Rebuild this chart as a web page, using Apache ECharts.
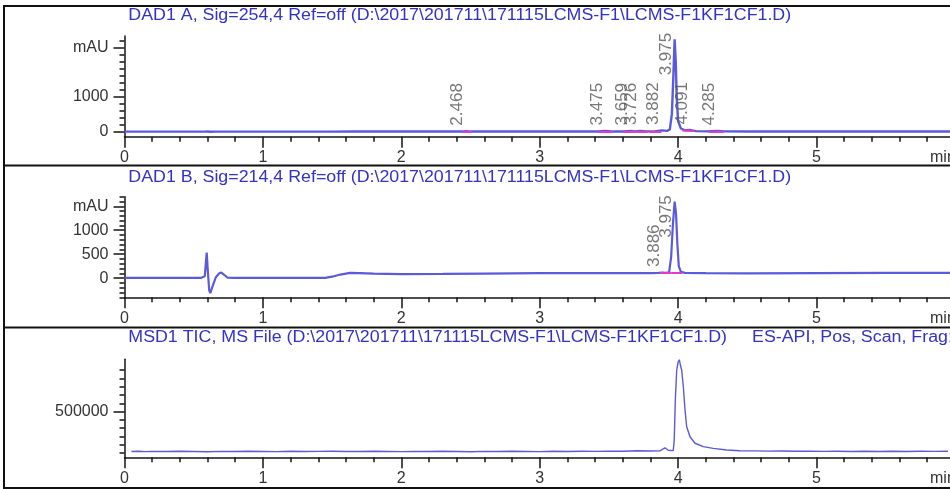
<!DOCTYPE html>
<html>
<head>
<meta charset="utf-8">
<script src="https://cdn.jsdelivr.net/npm/echarts@6/dist/echarts.min.js"></script>
<style>
html, body { margin: 0; padding: 0; background: #fff; }
#chart { width: 950px; height: 489px; }
</style>
</head>
<body>
<div id="chart"></div>
<script>
// ---------- signal data: [retention time (min), response] ----------

// DAD1 A, 254 nm (mAU)
const dadA = [
  [0, 1], [0.3, 1], [0.58, 1], [0.6, 4], [0.62, -2], [0.66, 1], [1.0, 1], [1.5, 1],
  [1.65, 4], [1.8, 3], [2.0, 2], [2.42, 2], [2.45, 3], [2.468, 12], [2.49, 3], [2.6, 2],
  [3.0, 3], [3.42, 3], [3.475, 20], [3.52, 4], [3.6, 4], [3.659, 18], [3.69, 7],
  [3.726, 22], [3.77, 7], [3.83, 8], [3.882, 35], [3.92, 20], [3.94, 60], [3.955, 500],
  [3.965, 1500], [3.975, 2640], [3.983, 2000], [3.99, 1000], [4.0, 300], [4.02, 90],
  [4.05, 40], [4.091, 45], [4.13, 15], [4.2, 8], [4.285, 20], [4.33, 6], [4.5, 4],
  [5.0, 3], [5.5, 3], [6.0, 3]
];
const peaksA = [2.468, 3.475, 3.659, 3.726, 3.882, 3.975, 4.091, 4.285];
// integration baselines [t start, value, t end, value]
const baseA = [
  [2.44, 3, 2.51, 3], [3.42, 4, 3.53, 4], [3.60, 5, 3.70, 6], [3.70, 6, 3.78, 7],
  [3.79, 8, 3.88, 10], [4.03, 30, 4.12, 15], [4.22, 8, 4.33, 6]
];

// DAD1 B, 214 nm (mAU)
const dadB = [
  [0, 5], [0.3, 5], [0.55, 5], [0.58, 40], [0.594, 533], [0.602, 150], [0.612, -250],
  [0.62, -312], [0.635, -180], [0.66, 20], [0.685, 100], [0.70, 117], [0.72, 70],
  [0.745, 8], [0.8, 5], [1.0, 5], [1.2, 5], [1.45, 6], [1.5, 30], [1.56, 75], [1.63, 110],
  [1.7, 106], [1.8, 95], [2.0, 85], [2.3, 88], [2.6, 95], [3.0, 105], [3.5, 106],
  [3.8, 106], [3.86, 108], [3.886, 118], [3.91, 110], [3.935, 120], [3.95, 450],
  [3.962, 1100], [3.975, 1596], [3.985, 1350], [3.995, 700], [4.005, 250], [4.02, 130],
  [4.05, 110], [4.2, 104], [4.5, 98], [5.0, 106], [5.5, 110], [6.0, 110]
];
const peaksB = [3.886, 3.975];
const baseB = [[3.87, 108, 3.95, 112], [3.95, 112, 4.03, 112]];

// MSD1 TIC (counts)
const tic = [
  [0.05, 20000], [0.1, 22000], [0.15, 18000], [0.2, 21000], [0.3, 19000], [0.4, 23000],
  [0.5, 20000], [0.6, 17000], [0.7, 21000], [0.8, 19000], [0.9, 22000], [1.0, 20000],
  [1.1, 18000], [1.2, 22000], [1.3, 19000], [1.4, 21000], [1.5, 23000], [1.6, 20000],
  [1.7, 19000], [1.8, 22000], [1.9, 20000], [2.0, 18000], [2.1, 21000], [2.2, 19000],
  [2.3, 22000], [2.4, 20000], [2.5, 17000], [2.6, 21000], [2.7, 19000], [2.8, 22000],
  [2.9, 20000], [3.0, 18000], [3.1, 22000], [3.2, 20000], [3.3, 23000], [3.4, 21000],
  [3.5, 24000], [3.6, 22000], [3.7, 28000], [3.8, 26000], [3.869, 27000], [3.905, 65000],
  [3.929, 35000], [3.965, 30000], [3.972, 158000], [3.98, 640000], [3.99, 1001000],
  [4.0, 1097000], [4.009, 1125000], [4.018, 1049000], [4.026, 1001000], [4.038, 800000],
  [4.05, 520000], [4.062, 318000], [4.086, 198000], [4.122, 119000], [4.182, 78000],
  [4.254, 58000], [4.351, 38000], [4.447, 29500], [4.55, 27000], [4.65, 24000],
  [4.75, 25000], [4.85, 22000], [4.95, 24000], [5.05, 21000], [5.15, 23000],
  [5.25, 20000], [5.35, 22000], [5.45, 19000], [5.55, 22000], [5.65, 20000],
  [5.75, 23000], [5.85, 21000], [5.95, 22000]
];

// ---------- axes ----------
const timeRange = [0, 6];
const yRangeA = [-145, 2735];
const yRangeB = [-400, 1700];
const yRangeT = [-50000, 1130000];
const yLabelsA = { 0: '0', 1000: '1000', 2400: 'mAU' };
const yLabelsB = { 0: '0', 500: '500', 1000: '1000', 1500: 'mAU' };
const yLabelsT = { 500000: '500000' };
const yMinorStepA = 200, yMinorStepB = 100, yMinorStepT = 100000;
const yMinorSpanA = [0, 2600], yMinorSpanB = [-400, 1700], yMinorSpanT = [0, 1000000];

// ---------- titles ----------
const titleA = 'DAD1 A, Sig=254,4 Ref=off (D:\\2017\\201711\\171115LCMS-F1\\LCMS-F1KF1CF1.D)';
const titleB = 'DAD1 B, Sig=214,4 Ref=off (D:\\2017\\201711\\171115LCMS-F1\\LCMS-F1KF1CF1.D)';
const titleT = 'MSD1 TIC, MS File (D:\\2017\\201711\\171115LCMS-F1\\LCMS-F1KF1CF1.D)';
const titleT2 = 'ES-API, Pos, Scan, Frag: 70';

const FONT = '"Liberation Sans", Arial, sans-serif';
const AXIS = '#141414';
const TRACE = '#5a5adc';
const INTEG = '#e23cc0';
const TITLE = '#3232c8';

// panel frames (pixel layout)
const panels = [
  { top: 36, height: 100.7, titleY: 16 },
  { top: 196.7, height: 100.6, titleY: 178 },
  { top: 359.3, height: 98, titleY: 338 }
];
const LEFT = 124.5, WIDTH = 830.4;

function steps(span, step) {
  const out = [];
  for (let v = span[0]; v <= span[1] + 1e-9; v += step) out.push(+v.toFixed(6));
  return out;
}

const grid = panels.map(p => ({
  left: LEFT, top: p.top, width: WIDTH, height: p.height,
  outerBoundsMode: 'none', containLabel: false
}));

const xAxis = panels.map((p, i) => ({
  gridIndex: i, type: 'value', position: 'bottom',
  min: timeRange[0], max: timeRange[1], interval: 1,
  axisLine: { onZero: false, lineStyle: { color: AXIS, width: 1.5 } },
  axisTick: { length: 11, lineStyle: { color: AXIS, width: 1.5 } },
  minorTick: { show: true, splitNumber: 5, length: 5, lineStyle: { color: AXIS, width: 1.5 } },
  splitLine: { show: false }, minorSplitLine: { show: false },
  axisLabel: {
    margin: 13, fontSize: 16, fontFamily: FONT, color: '#333',
    formatter: v => (v >= timeRange[1] ? '' : String(v))
  }
}));

const yDefs = [
  { range: yRangeA, labels: yLabelsA, step: yMinorStepA, span: yMinorSpanA },
  { range: yRangeB, labels: yLabelsB, step: yMinorStepB, span: yMinorSpanB },
  { range: yRangeT, labels: yLabelsT, step: yMinorStepT, span: yMinorSpanT }
];
const yAxis = [];
yDefs.forEach((d, i) => {
  // minor ticks + axis line
  yAxis.push({
    gridIndex: i, type: 'value', position: 'left', offset: 0,
    min: d.range[0], max: d.range[1],
    axisLine: { show: true, onZero: false, lineStyle: { color: AXIS, width: 1.5 } },
    axisTick: { show: true, length: 5, customValues: steps(d.span, d.step), lineStyle: { color: AXIS, width: 1.5 } },
    axisLabel: { show: false }, splitLine: { show: false }
  });
  // labelled major ticks
  const majors = Object.keys(d.labels).map(Number);
  yAxis.push({
    gridIndex: i, type: 'value', position: 'left', offset: 0,
    min: d.range[0], max: d.range[1],
    axisLine: { show: false, onZero: false },
    axisTick: { show: true, length: 11, customValues: majors, lineStyle: { color: AXIS, width: 1.5 } },
    axisLabel: {
      customValues: majors, margin: 16, fontSize: 16, fontFamily: FONT, color: '#333',
      formatter: v => d.labels[v] || ''
    },
    splitLine: { show: false }
  });
});

function trace(i, data, width) {
  return {
    type: 'line', xAxisIndex: i, yAxisIndex: i * 2, data: data, showSymbol: false,
    symbol: 'none', clip: true, animation: false,
    lineStyle: { color: TRACE, width: width }, z: 3
  };
}

function integration(i, segs) {
  return {
    type: 'lines', coordinateSystem: 'cartesian2d', xAxisIndex: i, yAxisIndex: i * 2,
    polyline: false, animation: false, z: 4,
    lineStyle: { color: INTEG, width: 2, opacity: 1 },
    data: segs.map(s => ({ coords: [[s[0], s[1]], [s[2], s[3]]] }))
  };
}

function peakLabels(i, data, peaks, tallFrom) {
  const pts = peaks.map(rt => {
    const pt = data.find(d => Math.abs(d[0] - rt) < 1e-9);
    const tall = pt[1] >= tallFrom;
    return {
      value: [rt, pt[1]],
      label: tall ? { align: 'right', distance: 6 } : { align: 'left', distance: 5 }
    };
  });
  return {
    type: 'scatter', xAxisIndex: i, yAxisIndex: i * 2, data: pts, symbolSize: 1,
    itemStyle: { color: 'rgba(0,0,0,0)' }, animation: false, z: 5, silent: true,
    labelLayout: { hideOverlap: false },
    label: {
      show: true, position: 'top', rotate: 90, verticalAlign: 'bottom',
      fontSize: 17, fontFamily: FONT, color: '#555',
      formatter: p => p.value[0].toFixed(3)
    }
  };
}

const series = [
  trace(0, dadA, 2.4), integration(0, baseA), peakLabels(0, dadA, peaksA, 1000),
  trace(1, dadB, 2.2), integration(1, baseB), peakLabels(1, dadB, peaksB, 1000),
  trace(2, tic, 1.4)
];

const titleFont = '16px ' + FONT;
const graphic = [
  // panel frames
  { type: 'rect', shape: { x: 4, y: 6, width: 960, height: 482 }, style: { fill: 'none', stroke: '#111', lineWidth: 2 }, silent: true },
  { type: 'line', shape: { x1: 4, y1: 165.5, x2: 960, y2: 165.5 }, style: { stroke: '#111', lineWidth: 2 }, silent: true },
  { type: 'line', shape: { x1: 4, y1: 327.5, x2: 960, y2: 327.5 }, style: { stroke: '#111', lineWidth: 2 }, silent: true },
  // titles
  { type: 'text', x: 128.3, y: panels[0].titleY, scaleX: 1.113, style: { text: titleA, font: titleFont, fill: TITLE, verticalAlign: 'middle' } },
  { type: 'text', x: 128.3, y: panels[1].titleY, scaleX: 1.113, style: { text: titleB, font: titleFont, fill: TITLE, verticalAlign: 'middle' } },
  { type: 'text', x: 128.3, y: panels[2].titleY, scaleX: 1.113, style: { text: titleT, font: titleFont, fill: TITLE, verticalAlign: 'middle' } },
  { type: 'text', x: 752, y: panels[2].titleY, scaleX: 1.113, style: { text: titleT2, font: titleFont, fill: TITLE, verticalAlign: 'middle' } }
];
// time unit at the right end of each time axis
panels.forEach(p => {
  graphic.push({ type: 'text', x: 930, y: p.top + p.height + 21, style: { text: 'min', font: '16px ' + FONT, fill: '#333', verticalAlign: 'middle' } });
});

const chart = echarts.init(document.getElementById('chart'), null, { renderer: 'canvas' });
chart.setOption({
  animation: false,
  backgroundColor: '#fff',
  grid: grid,
  xAxis: xAxis,
  yAxis: yAxis,
  series: series,
  graphic: graphic
});
</script>
</body>
</html>
